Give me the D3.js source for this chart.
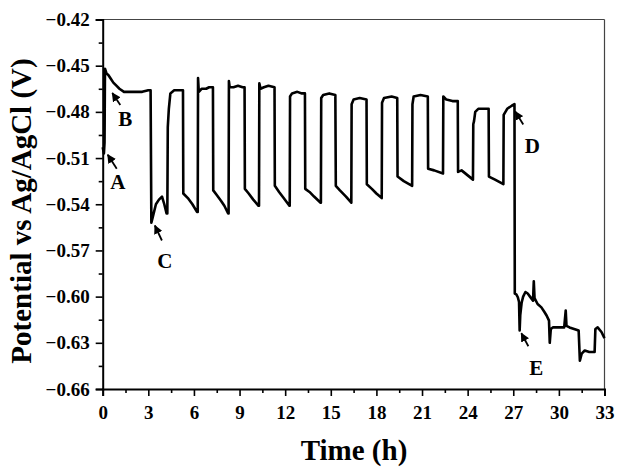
<!DOCTYPE html>
<html>
<head>
<meta charset="utf-8">
<script src="https://cdn.jsdelivr.net/npm/d3@7/dist/d3.min.js"></script>
<style>
  html, body { margin: 0; padding: 0; background: #fff; }
  svg { display: block; }
  text { font-family: "Liberation Serif", "Times New Roman", serif; font-weight: bold; fill: #000; }
</style>
</head>
<body>
<svg id="chart" width="625" height="473"></svg>
<script>
// ---- data (time in h, potential in V vs Ag/AgCl) ----
const times = [
  0.00, 0.08, 0.12, 0.15, 0.25, 0.37, 0.50, 0.70, 0.90, 1.10, 1.40, 1.80, 2.20, 2.60, 3.00, 3.15,
  3.20, 3.30, 3.50, 3.70, 3.90, 4.05, 4.20, 4.25, 4.28, 4.35, 4.45, 4.70, 5.00, 5.28,
  5.30, 5.60, 5.90, 6.20, 6.25, 6.27, 6.32, 6.50, 6.80, 7.00, 7.25,
  7.27, 7.50, 7.80, 8.00, 8.25, 8.28, 8.30, 8.35, 8.60, 8.90, 9.20, 9.33,
  9.35, 9.60, 9.90, 10.25, 10.28, 10.30, 10.38, 10.60, 10.90, 11.30,
  11.32, 11.60, 11.90, 12.28, 12.30, 12.32, 12.45, 12.80, 13.10, 13.30,
  13.32, 13.60, 13.90, 14.33, 14.35, 14.37, 14.50, 14.90, 15.30,
  15.33, 15.60, 16.00, 16.35, 16.37, 16.50, 16.90, 17.35,
  17.37, 17.70, 18.00, 18.35, 18.37, 18.50, 19.00, 19.37,
  19.39, 19.80, 20.35, 20.37, 20.45, 20.90, 21.38,
  21.40, 21.80, 22.38, 22.40, 22.60, 23.00, 23.35,
  23.37, 23.60, 24.35, 24.37, 24.42, 24.50, 24.70, 25.00, 25.38,
  25.40, 25.80, 26.35, 26.37, 26.60, 26.90, 27.08,
  27.10, 27.20, 27.30, 27.38, 27.42, 27.46, 27.55, 27.65, 27.80, 27.95, 28.10, 28.30, 28.35, 28.40,
  28.60, 28.85, 29.05, 29.20, 29.35, 29.40, 29.47, 29.60, 29.90, 30.35, 30.45, 30.50, 30.70, 31.00,
  31.30, 31.38, 31.50, 31.70, 32.00, 32.35, 32.40, 32.55, 32.80, 33.00
];
const potentials = [
  -0.503, -0.507, -0.500, -0.452, -0.455, -0.456, -0.458, -0.461, -0.463, -0.465, -0.467, -0.467, -0.467, -0.467, -0.466, -0.466,
  -0.552, -0.548, -0.540, -0.537, -0.535, -0.540, -0.546, -0.546, -0.490, -0.478, -0.468, -0.466, -0.466, -0.466,
  -0.533, -0.536, -0.540, -0.545, -0.545, -0.458, -0.467, -0.465, -0.465, -0.464, -0.464,
  -0.531, -0.534, -0.538, -0.541, -0.546, -0.546, -0.460, -0.464, -0.464, -0.463, -0.464, -0.464,
  -0.530, -0.533, -0.537, -0.541, -0.541, -0.4615, -0.465, -0.464, -0.463, -0.464,
  -0.528, -0.532, -0.536, -0.541, -0.541, -0.470, -0.468, -0.467, -0.468, -0.468,
  -0.530, -0.532, -0.535, -0.539, -0.539, -0.471, -0.469, -0.468, -0.469,
  -0.528, -0.531, -0.535, -0.539, -0.475, -0.472, -0.471, -0.472,
  -0.527, -0.530, -0.533, -0.536, -0.474, -0.471, -0.470, -0.471,
  -0.522, -0.525, -0.528, -0.475, -0.470, -0.469, -0.470,
  -0.517, -0.518, -0.520, -0.470, -0.472, -0.473, -0.473,
  -0.519, -0.518, -0.524, -0.488, -0.486, -0.480, -0.478, -0.478, -0.478,
  -0.522, -0.524, -0.527, -0.482, -0.478, -0.476, -0.475,
  -0.598, -0.5985, -0.6004, -0.6035, -0.622, -0.612, -0.604, -0.600, -0.597, -0.598, -0.600, -0.6026, -0.590, -0.601,
  -0.6048, -0.607, -0.610, -0.6124, -0.6156, -0.630, -0.621, -0.620, -0.620, -0.620, -0.609, -0.619, -0.620, -0.621,
  -0.622, -0.6416, -0.637, -0.635, -0.636, -0.636, -0.621, -0.620, -0.623, -0.627
];

const xTicks = [0, 3, 6, 9, 12, 15, 18, 21, 24, 27, 30, 33];
const yTicks = [-0.42, -0.45, -0.48, -0.51, -0.54, -0.57, -0.60, -0.63, -0.66];
const xMinorTicks = [1.5, 4.5, 7.5, 10.5, 13.5, 16.5, 19.5, 22.5, 25.5, 28.5, 31.5];
const yMinorTicks = [-0.435, -0.465, -0.495, -0.525, -0.555, -0.585, -0.615, -0.645];

const annLabels = ["A", "B", "C", "D", "E"];
// annotation anchor points (time, potential) the arrows point at
const annTimes = [0.2, 0.5, 3.3, 27.0, 27.4];
const annValues = [-0.5065, -0.4665, -0.5525, -0.4785, -0.6225];

// ---- layout ----
const svg = d3.select("#chart");
const L = 102.7, R = 604.5, T = 19.5, B = 389;

const x = d3.scaleLinear().domain([0, 33]).range([L, R]);
const y = d3.scaleLinear().domain([-0.66, -0.42]).range([B, T]);

// frame top/right (thin grey)
svg.append("line").attr("x1", L).attr("x2", R).attr("y1", T).attr("y2", T)
  .attr("stroke", "#444").attr("stroke-width", 1.2);
svg.append("line").attr("x1", R).attr("x2", R).attr("y1", T).attr("y2", B)
  .attr("stroke", "#444").attr("stroke-width", 1.2);

const fmtY = d3.format(".2f");

// x axis
svg.append("g").attr("transform", `translate(0,${B})`)
  .call(d3.axisBottom(x).tickValues(xTicks).tickSize(7).tickPadding(10).tickFormat(d3.format("d")));
svg.append("g").attr("transform", `translate(0,${B})`)
  .call(d3.axisBottom(x).tickValues(xMinorTicks).tickSize(4).tickFormat(""))
  .call(g => g.select(".domain").remove());

// y axis
svg.append("g").attr("transform", `translate(${L},0)`)
  .call(d3.axisLeft(y).tickValues(yTicks).tickSize(7).tickPadding(6).tickFormat(d => fmtY(d).replace("-", "\u2212")));
svg.append("g").attr("transform", `translate(${L},0)`)
  .call(d3.axisLeft(y).tickValues(yMinorTicks).tickSize(4).tickFormat(""))
  .call(g => g.select(".domain").remove());

svg.selectAll(".domain").attr("stroke", "#000").attr("stroke-width", 2);
svg.selectAll(".tick line").attr("stroke", "#000").attr("stroke-width", 1.6);
svg.selectAll(".tick text")
  .style("font-family", '"Liberation Serif", "Times New Roman", serif')
  .style("font-weight", "bold").style("font-size", "19px").attr("fill", "#000");

// data line
const pts = times.map((t, i) => [t, potentials[i]]);
const line = d3.line().x(d => x(d[0])).y(d => y(d[1]));
svg.append("path").datum(pts).attr("d", line)
  .attr("fill", "none").attr("stroke", "#000").attr("stroke-width", 2.6)
  .attr("stroke-linejoin", "round");

// annotations
const defs = svg.append("defs");
defs.append("marker").attr("id", "ah").attr("viewBox", "0 0 10 10")
  .attr("refX", 9).attr("refY", 5).attr("markerWidth", 5).attr("markerHeight", 5)
  .attr("orient", "auto")
  .append("path").attr("d", "M0,0 L10,5 L0,10 z").attr("fill", "#000");

const annArrowDx = [9, 8, 7, 8, 7];
const annArrowDy = [14, 12, 15, 13, 13];
const annTextDx = [10, 13, 10, 17, 15];
const annTextDy = [34, 33, 43, 41, 42];

annLabels.forEach((lab, i) => {
  const ax = x(annTimes[i]) + 2, ay = y(annValues[i]) + 2;
  svg.append("line")
    .attr("x1", ax + annArrowDx[i]).attr("y1", ay + annArrowDy[i])
    .attr("x2", ax).attr("y2", ay)
    .attr("stroke", "#000").attr("stroke-width", 1.8)
    .attr("marker-end", "url(#ah)");
  svg.append("text").attr("x", ax + annTextDx[i]).attr("y", ay + annTextDy[i])
    .attr("text-anchor", "middle").style("font-size", "21px").text(lab);
});

// axis titles
svg.append("text").attr("x", 354).attr("y", 460).attr("text-anchor", "middle")
  .style("font-size", "29px").text("Time (h)");
svg.append("text").attr("transform", "translate(31,211) rotate(-90)")
  .attr("text-anchor", "middle").style("font-size", "29px").text("Potential vs Ag/AgCl (V)");
</script>
</body>
</html>
